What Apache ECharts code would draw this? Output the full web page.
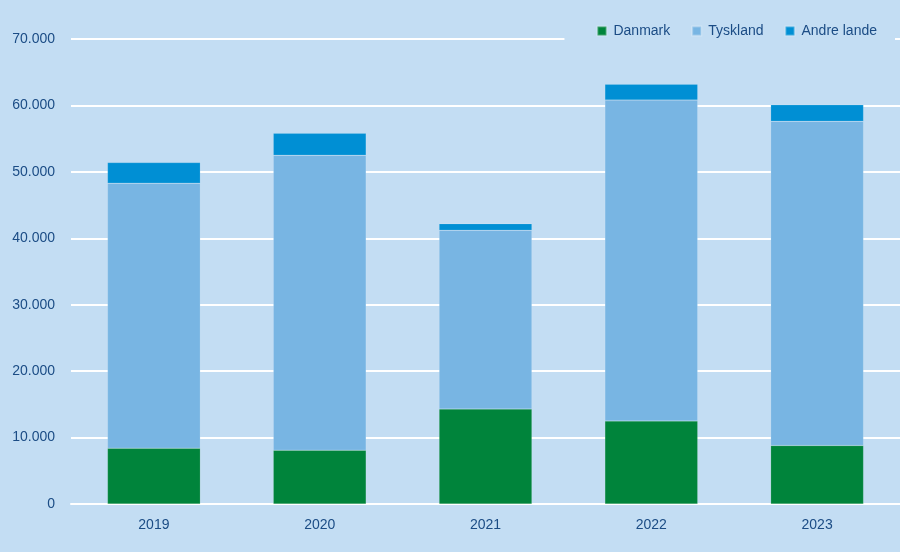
<!DOCTYPE html>
<html><head><meta charset="utf-8">
<script src="https://cdn.jsdelivr.net/npm/echarts@6/dist/echarts.min.js"></script>
<style>html,body{margin:0;padding:0;background:#c3ddf3;}#c{width:900px;height:552px;}</style>
</head><body><div id="c"></div>
<script>
const categories = ['2019','2020','2021','2022','2023'];
const danmark = [8400, 8100, 14300, 12500, 8800];
const tyskland = [39900, 44400, 26900, 48300, 48800];
const andreLande = [3100, 3300, 1000, 2400, 2500];
const yTicks = {min:0, max:70000, interval:10000};

const fmt = v => String(v).replace(/\B(?=(\d{3})+(?!\d))/g, '.');
const chart = echarts.init(document.getElementById('c'));
const txt = {color:'#1b4c85', fontFamily:'Liberation Sans, Arial', fontSize:14};
function s(name, data, color){
  return {name, type:'bar', stack:'t', data, barWidth:'56%',
    itemStyle:{color, borderColor:'rgba(255,255,255,0.25)', borderWidth:0.5}};
}
chart.setOption({
  backgroundColor:'#c3ddf3',
  animation:false,
  legend:{right:5, top:21, itemWidth:9, itemHeight:9, itemGap:21, icon:'rect',
    backgroundColor:'#c3ddf3', padding:[3,18,3,32],
    textStyle:Object.assign({}, txt, {padding:[0,0,0,2]}),
    data:['Danmark','Tyskland','Andre lande']},
  grid:{left:71, right:-1, top:39, bottom:48, containLabel:false},
  xAxis:{type:'category', data:categories,
    axisLine:{show:true, lineStyle:{color:'#ffffff', width:2}},
    axisTick:{show:false},
    axisLabel:Object.assign({}, txt, {margin:14})},
  yAxis:{type:'value', min:yTicks.min, max:yTicks.max, interval:yTicks.interval,
    axisLine:{show:false}, axisTick:{show:false},
    splitLine:{lineStyle:{color:'#ffffff', width:2}},
    axisLabel:Object.assign({}, txt, {margin:16, formatter:fmt})},
  series:[s('Danmark', danmark, '#00843b'), s('Tyskland', tyskland, '#78b5e3'), s('Andre lande', andreLande, '#008fd4')]
});
</script></body></html>
